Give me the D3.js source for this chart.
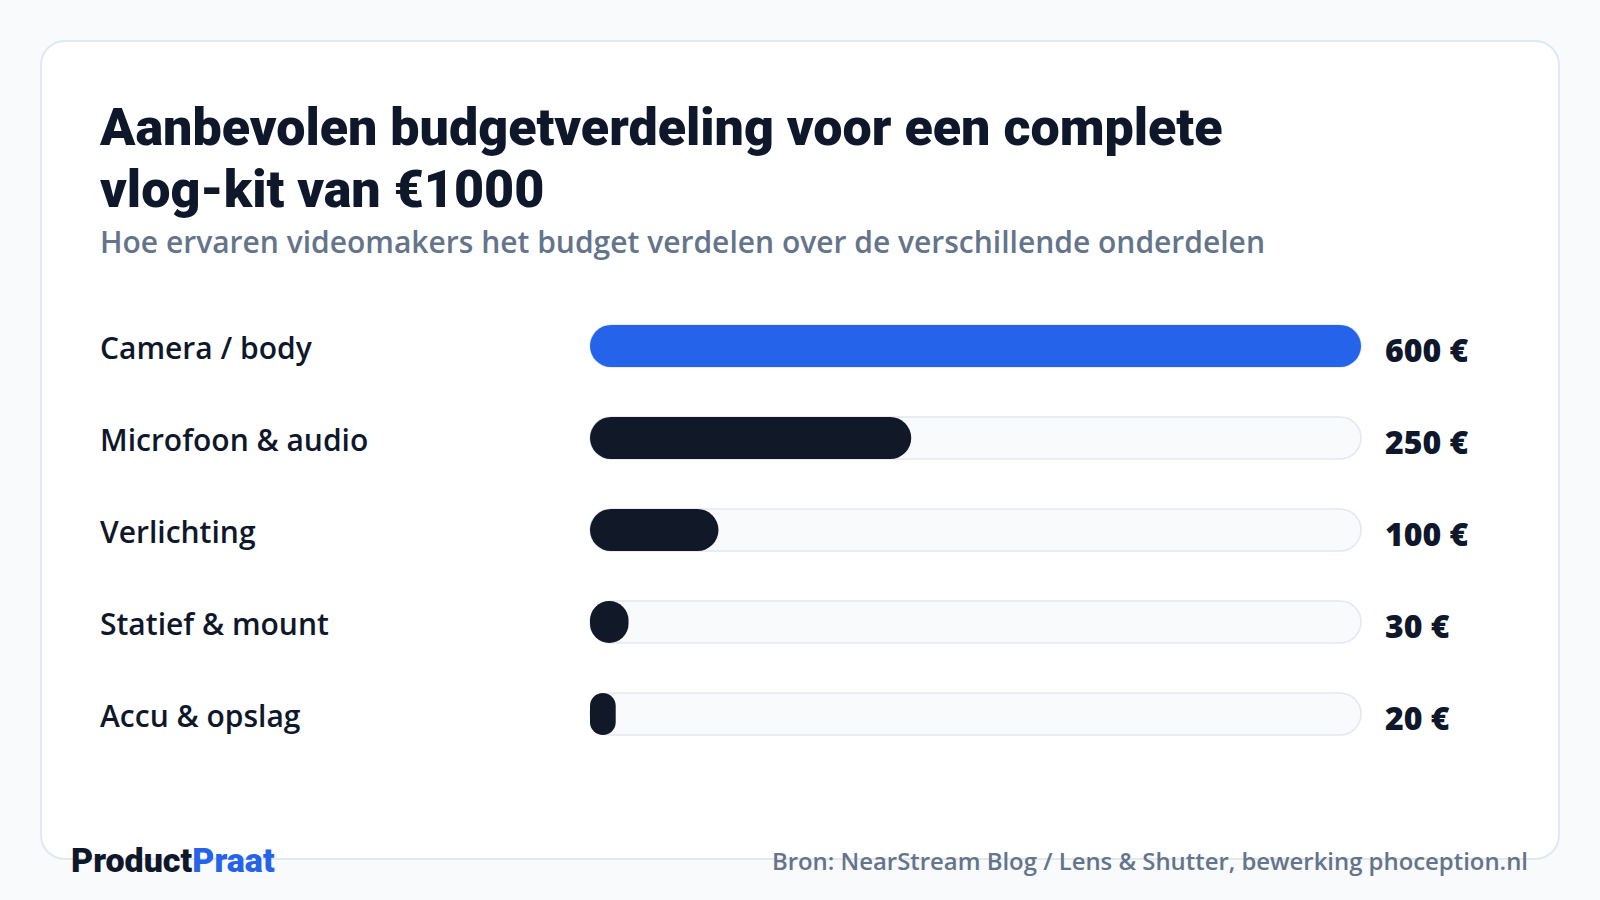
<!DOCTYPE html>
<html>
<head>
<meta charset="utf-8">
<script src="https://cdn.jsdelivr.net/npm/d3@7"></script>
<style>
  html, body { margin: 0; padding: 0; background: #f8fafc; }
  svg { display: block; }
</style>
</head>
<body>
<svg id="chart" width="1600" height="900"></svg>
<script>
// data
var categories = ["Camera / body", "Microfoon & audio", "Verlichting", "Statief & mount", "Accu & opslag"];
var values = [600, 250, 100, 30, 20];
var valueLabels = ["600 €", "250 €", "100 €", "30 €", "20 €"];
var titleLines = ["Aanbevolen budgetverdeling voor een complete", "vlog-kit van €1000"];
var subtitle = "Hoe ervaren videomakers het budget verdelen over de verschillende onderdelen";
var source = "Bron: NearStream Blog / Lens & Shutter, bewerking phoception.nl";

var W = 1600, H = 900;
var svg = d3.select("#chart");
var sans = "'Open Sans', 'Noto Sans', sans-serif";
var head = "Roboto, 'Noto Sans', sans-serif";

// background + card
svg.append("rect").attr("width", W).attr("height", H).attr("fill", "#f8fafc");
svg.append("rect")
  .attr("x", 41).attr("y", 41).attr("width", 1518).attr("height", 818)
  .attr("rx", 24).attr("fill", "#ffffff")
  .attr("stroke", "#e2e8f0").attr("stroke-width", 2);

// title
svg.append("text")
  .attr("x", 100).attr("y", 145)
  .attr("font-family", head).attr("font-weight", 900).attr("font-size", 52)
  .attr("fill", "#0f172a")
  .selectAll("tspan").data(titleLines).enter().append("tspan")
  .attr("x", 100).attr("dy", function (d, i) { return i ? 62 : 0; })
  .text(function (d) { return d; });

svg.append("text")
  .attr("x", 100).attr("y", 253)
  .attr("font-family", sans).attr("font-weight", 600).attr("font-size", 30)
  .attr("fill", "#64748b")
  .text(subtitle);

// scales
var x = d3.scaleLinear().domain([0, d3.max(values)]).range([590, 1361]);
var y = d3.scaleBand().domain(categories).range([325, 735]).paddingInner(0.5435).paddingOuter(0);
var bh = y.bandwidth();

var rows = svg.append("g").selectAll("g").data(categories).enter().append("g")
  .attr("transform", function (d) { return "translate(0," + y(d) + ")"; });

// track
rows.append("rect")
  .attr("x", x(0)).attr("y", 0)
  .attr("width", x.range()[1] - x(0)).attr("height", bh)
  .attr("rx", bh / 2)
  .attr("fill", "#f8fafc").attr("stroke", "#e2e8f0").attr("stroke-width", 1.5);

// bar
rows.append("rect")
  .attr("x", x(0)).attr("y", 0)
  .attr("width", function (d, i) { return x(values[i]) - x(0); })
  .attr("height", bh)
  .attr("rx", function (d, i) { return Math.min(bh, x(values[i]) - x(0)) / 2; })
  .attr("fill", function (d, i) { return i == 0 ? "#2563eb" : "#111827"; });

// category labels
rows.append("text")
  .attr("x", 100).attr("y", bh / 2 + 13)
  .attr("font-family", sans).attr("font-weight", 600).attr("font-size", 30)
  .attr("fill", "#0f172a")
  .text(function (d) { return d; });

// value labels
rows.append("text")
  .attr("x", 1385).attr("y", bh / 2 + 16)
  .attr("font-family", sans).attr("font-weight", 800).attr("font-size", 32)
  .attr("fill", "#0f172a")
  .text(function (d, i) { return valueLabels[i]; });

// footer
var brand = svg.append("text")
  .attr("x", 71).attr("y", 872)
  .attr("font-family", head).attr("font-weight", 900).attr("font-size", 34);
brand.append("tspan").attr("fill", "#0f172a").text("Product");
brand.append("tspan").attr("fill", "#2563eb").text("Praat");

svg.append("text")
  .attr("x", 1528).attr("y", 870).attr("text-anchor", "end")
  .attr("font-family", sans).attr("font-weight", 600).attr("font-size", 23.9)
  .attr("fill", "#64748b")
  .text(source);
</script>
</body>
</html>
